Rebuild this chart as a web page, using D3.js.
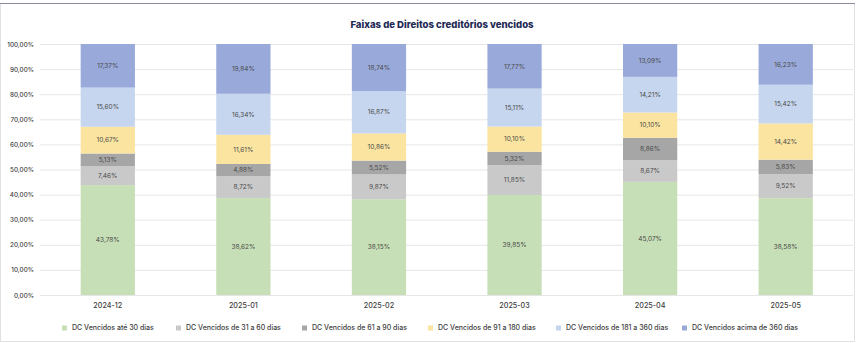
<!DOCTYPE html>
<html><head><meta charset="utf-8">
<script src="https://cdn.jsdelivr.net/npm/d3@7"></script>
<style>body{margin:0;background:#fff}svg{display:block}</style>
</head><body>
<svg id="c" width="857" height="343"></svg>
<script>
const categories = ["2024-12","2025-01","2025-02","2025-03","2025-04","2025-05"];
const seriesNames = ["DC Vencidos até 30 dias","DC Vencidos de 31 a 60 dias","DC Vencidos de 61 a 90 dias","DC Vencidos de 91 a 180 dias","DC Vencidos de 181 a 360 dias","DC Vencidos acima de 360 dias"];
const ate30 = [43.78,38.62,38.15,39.85,45.07,38.58];
const de31a60 = [7.46,8.72,9.87,11.85,8.67,9.52];
const de61a90 = [5.13,4.88,5.52,5.32,8.86,5.83];
const de91a180 = [10.67,11.61,10.86,10.10,10.10,14.42];
const de181a360 = [15.60,16.34,16.87,15.11,14.21,15.42];
const acima360 = [17.37,19.84,18.74,17.77,13.09,16.23];
const yTicks = [0,10,20,30,40,50,60,70,80,90,100];
const colors = ["#c7dfb6","#c9c9c9","#a6a6a6","#fae4a0","#c6d6ee","#98a9da"];

const series = [ate30,de31a60,de61a90,de91a180,de181a360,acima360];
const svg = d3.select("#c");
const W = 857, H = 343;
const fmt = v => v.toFixed(2).replace(".", ",") + "%";
const FONT = "Inter, 'Noto Sans', sans-serif";

// frame
svg.append("rect").attr("x",0.5).attr("y",3.5).attr("width",W-3).attr("height",H-5)
  .attr("fill","#fff").attr("stroke","#e2e2e6").attr("stroke-width",1);
svg.append("line").attr("x1",0).attr("x2",W-2).attr("y1",3.5).attr("y2",3.5)
  .attr("stroke","#8b8ba3").attr("stroke-width",1.2);

const x = d3.scaleBand().domain(categories).range([40,853.5]).paddingInner(0.6).paddingOuter(0.3);
const y = d3.scaleLinear().domain([0,100]).range([295,44]);

// grid
svg.append("g").selectAll("line").data(yTicks).join("line")
  .attr("x1",40).attr("x2",853).attr("y1",d=>y(d)+0.5).attr("y2",d=>y(d)+0.5)
  .attr("stroke","#e6e6e6").attr("stroke-width",1);

// y axis labels
const yAxis = d3.axisLeft(y).tickValues(yTicks).tickSize(0).tickPadding(0).tickFormat(d=>d.toFixed(2).replace(".",",")+"%");
const ya = svg.append("g").attr("transform","translate(34,0)").call(yAxis);
ya.select(".domain").remove();
ya.selectAll("text").attr("font-family",FONT).attr("font-size",6.3).attr("font-weight",500).attr("fill","#404040");

// x axis
const xAxis = d3.axisBottom(x).tickSize(0).tickPadding(0);
const xa = svg.append("g").attr("transform","translate(0,303)").call(xAxis);
xa.select(".domain").remove();
xa.selectAll("text").attr("font-family",FONT).attr("font-size",7.2).attr("font-weight",500).attr("fill","#404040");

// stack
const rows = categories.map((c,i)=>{const o={cat:c}; seriesNames.forEach((s,j)=>o[s]=series[j][i]); return o;});
const stacked = d3.stack().keys(seriesNames)(rows);
const g = svg.append("g");
stacked.forEach((layer,j)=>{
  g.append("g").selectAll("rect").data(layer).join("rect")
    .attr("x",d=>x(d.data.cat)).attr("width",x.bandwidth())
    .attr("y",d=>y(Math.min(100,d[1]))).attr("height",d=>y(d[0])-y(Math.min(100,d[1])))
    .attr("fill",colors[j]);
  g.append("g").selectAll("text").data(layer).join("text")
    .attr("x",d=>x(d.data.cat)+x.bandwidth()/2)
    .attr("y",d=>(y(d[0])+y(Math.min(100,d[1])))/2)
    .attr("dy","0.35em").attr("text-anchor","middle")
    .attr("font-family",FONT).attr("font-size",6.5).attr("fill","#4a4a4a")
    .text(d=>fmt(d[1]-d[0]));
});

// title
svg.append("text").attr("x",442).attr("y",25).attr("dy","0.35em").attr("text-anchor","middle")
  .attr("font-family",FONT).attr("font-weight",800).attr("font-size",9.6)
  .attr("fill","#1f2a55").text("Faixas de Direitos creditórios vencidos");

// legend
const legX = [62,176,302,428,556,682];
const lg = svg.append("g").selectAll("g").data(seriesNames).join("g")
  .attr("transform",(d,i)=>`translate(${legX[i]},328)`);
lg.append("rect").attr("x",0).attr("y",-2.5).attr("width",5).attr("height",5).attr("fill",(d,i)=>colors[i]);
lg.append("text").attr("x",10).attr("y",0).attr("dy","0.35em")
  .attr("font-family",FONT).attr("font-size",7).attr("font-weight",500).attr("fill","#404040").text(d=>d);
</script>
</body></html>
